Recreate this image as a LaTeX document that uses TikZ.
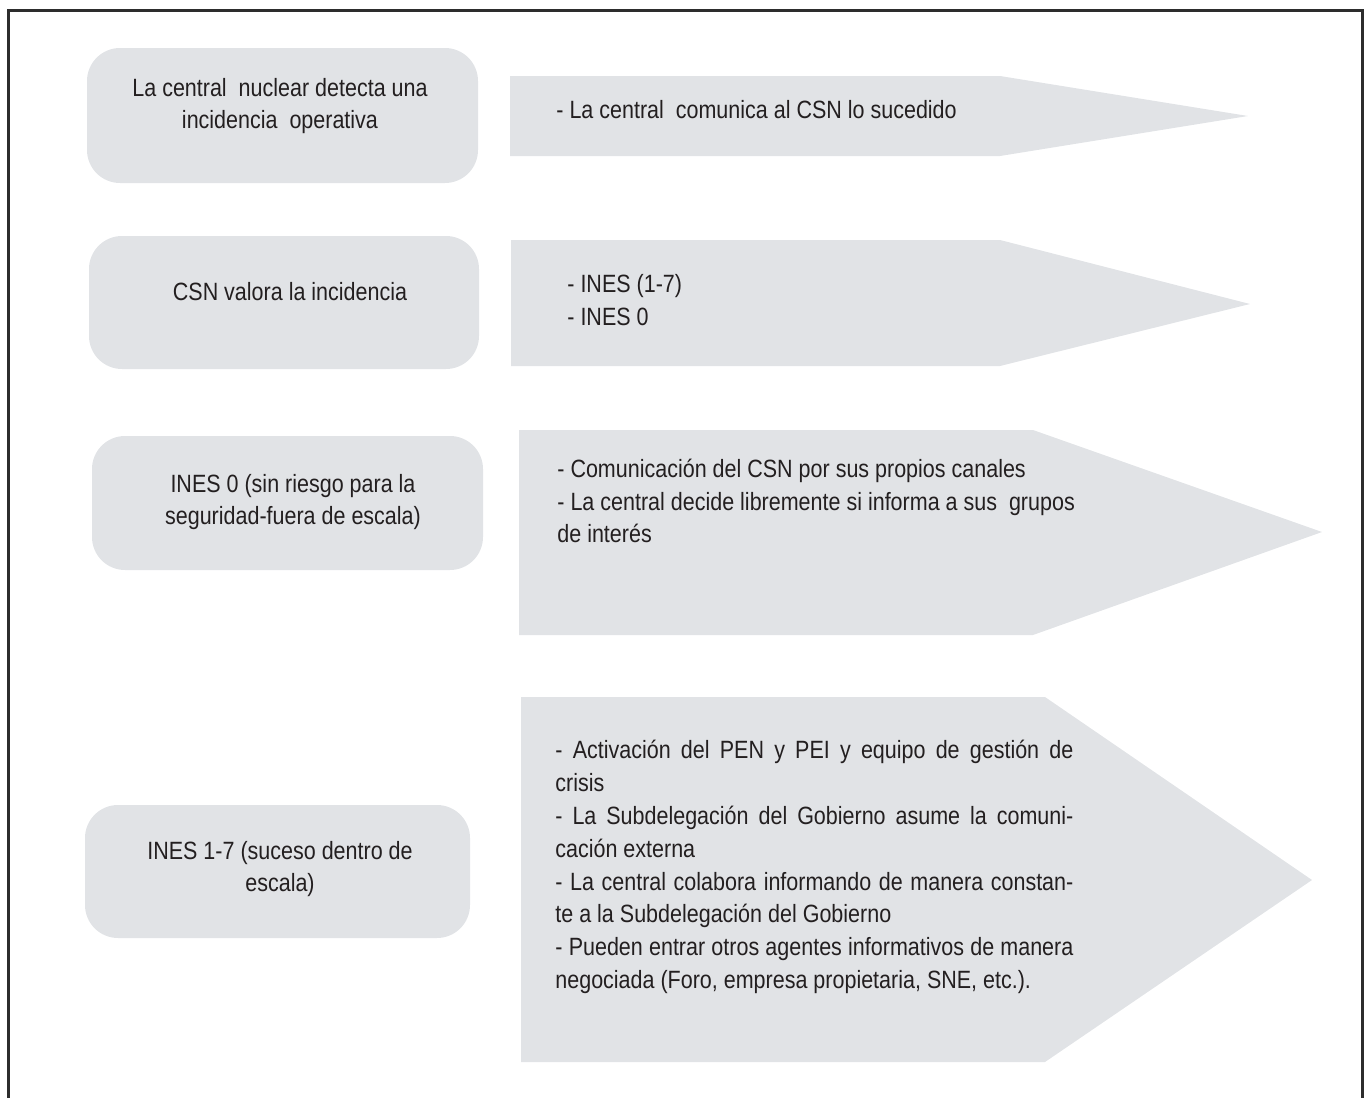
\documentclass[tikz,border=0pt]{standalone}
\usepackage{fontspec}
\setmainfont{Liberation Sans}[FakeStretch=0.86]
\definecolor{boxgray}{RGB}{225,227,230}
\definecolor{txtgray}{RGB}{35,31,32}
\definecolor{framegray}{RGB}{45,45,45}
\begin{document}
\begin{tikzpicture}[x=0.5pt,y=-0.5pt,
  stepbox/.style={fill=boxgray,rounded corners=16.5pt,inner sep=0pt},
  lbl/.style={align=center,text=txtgray,inner sep=0pt,font=\fontsize{12.5}{16.4}\selectfont},
  itemtxt/.style={anchor=west,align=left,text=txtgray,inner sep=0pt,font=\fontsize{12.5}{16.4}\selectfont}]
\useasboundingbox (0,0) rectangle (1367,1098);
\draw [line width=1.5pt,framegray] (8,1100) -- (8,10) -- (1362,10) -- (1362,1100);
\node [stepbox,minimum width=195.5pt,minimum height=67.5pt] (caja1) at (282.5,115.5) {};
\node [stepbox,minimum width=195pt,minimum height=66.5pt] (caja2) at (284,302.5) {};
\node [stepbox,minimum width=195.5pt,minimum height=67pt] (caja3) at (287.5,503) {};
\node [stepbox,minimum width=192.5pt,minimum height=66.5pt] (caja4) at (277.5,871.5) {};
\node [lbl] (txt1) at (280,106) {La central~ nuclear detecta una\\incidencia~ operativa};
\node [lbl] (txt2) at (290,292) {CSN valora la incidencia};
\node [lbl] (txt3) at (293,502) {INES 0 (sin riesgo para la\\seguridad-fuera de escala)};
\node [lbl] (txt4) at (280,869) {INES 1-7 (suceso dentro de\\escala)};
\fill [boxgray] (510,76) -- (1000,76) -- (1248,116) -- (1000,156) -- (510,156) -- cycle;
\fill [boxgray] (511,240) -- (1000,240) -- (1250,304) -- (1000,366) -- (511,366) -- cycle;
\fill [boxgray] (519,430) -- (1033,430) -- (1322,532) -- (1033,635) -- (519,635) -- cycle;
\fill [boxgray] (521,697) -- (1045,697) -- (1312,880) -- (1045,1062) -- (521,1062) -- cycle;
\node [itemtxt] (info1) at (556,110) {- La central~ comunica al CSN lo sucedido};
\node [itemtxt] (info2) at (567,300) {- INES (1-7)\\- INES 0};
\node [itemtxt] (info3) at (557,501) {- Comunicación del CSN por sus propios canales\\- La central decide libremente si informa a sus~ grupos\\de interés};
\node [itemtxt,align=justify,text width=259pt] (info4) at (555,867) {- Activación del PEN y PEI y equipo de gestión de\linebreak crisis\\
- La Subdelegación del Gobierno asume la comuni-\linebreak cación externa\\
- La central colabora informando de manera constan-\linebreak te a la Subdelegación del Gobierno\\
- Pueden entrar otros agentes informativos de manera\linebreak negociada (Foro, empresa propietaria, SNE, etc.).};
\end{tikzpicture}
\end{document}
